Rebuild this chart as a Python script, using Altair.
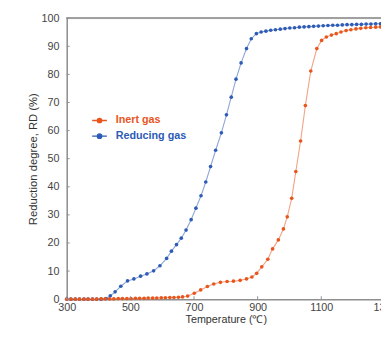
import altair as alt
import pandas as pd

# ---- data ----
series_names = ["Inert gas", "Reducing gas"]
series_colors = ["#E8561E", "#2D5BB5"]

inert_T = [300, 313, 327, 340, 354, 367, 381, 394, 408, 421, 435, 448, 462, 475,
           489, 502, 516, 529, 543, 556, 570, 583, 597, 610, 624, 637, 651, 664,
           680, 701, 721, 742, 762, 783, 804, 824, 845, 865, 882, 897, 913, 932,
           947, 965, 981, 993, 1007, 1020, 1035, 1050, 1067, 1086, 1101, 1116,
           1132, 1147, 1162, 1178, 1193, 1209, 1224, 1240, 1255, 1271, 1286, 1300]
inert_RD = [0.0, 0.0, 0.0, 0.0, 0.0, 0.0, 0.0, 0.0, 0.1, 0.1, 0.1, 0.1, 0.2, 0.2,
            0.2, 0.2, 0.3, 0.3, 0.3, 0.4, 0.4, 0.4, 0.5, 0.5, 0.6, 0.6, 0.7, 0.8,
            1.1, 2.1, 3.3, 4.5, 5.4, 6.0, 6.3, 6.4, 6.7, 7.2, 7.9, 9.2, 11.5, 14.2,
            17.9, 21.1, 25.0, 29.3, 35.9, 45.4, 56.3, 68.9, 81.2, 89.2, 92.1, 93.3,
            94.0, 94.5, 95.1, 95.6, 95.9, 96.2, 96.4, 96.6, 96.7, 96.8, 96.9, 97.0]

reducing_T = [300, 313, 327, 340, 354, 367, 381, 394, 408, 423, 437, 452, 470, 491,
              511, 532, 552, 573, 593, 614, 629, 645, 660, 675, 691, 706, 722, 737,
              752, 768, 786, 802, 817, 832, 848, 865, 880, 896, 911, 926, 941, 956,
              971, 986, 1001, 1016, 1031, 1046, 1061, 1076, 1091, 1106, 1121, 1136,
              1151, 1166, 1181, 1196, 1211, 1226, 1241, 1256, 1271, 1286, 1300]
reducing_RD = [0.0, 0.0, 0.0, 0.0, 0.0, 0.0, 0.0, 0.0, 0.0, 0.2, 1.2, 2.6, 4.6, 6.5,
               7.2, 8.2, 9.0, 10.1, 11.9, 14.5, 17.1, 19.4, 21.7, 24.6, 28.3, 32.4,
               36.8, 41.7, 47.2, 53.0, 59.2, 65.6, 71.9, 78.3, 84.1, 89.2, 92.7, 94.5,
               95.1, 95.4, 95.7, 95.9, 96.1, 96.3, 96.5, 96.6, 96.8, 96.9, 97.0, 97.1,
               97.2, 97.3, 97.4, 97.5, 97.5, 97.6, 97.7, 97.7, 97.8, 97.8, 97.9, 97.9,
               98.0, 98.0, 98.0]

x_ticks = [300, 500, 700, 900, 1100, 1300]
y_ticks = [0, 10, 20, 30, 40, 50, 60, 70, 80, 90, 100]

# ---- tables ----
df_red = pd.DataFrame({"T": reducing_T, "RD": reducing_RD, "series": series_names[1]})
df_inert = pd.DataFrame({"T": inert_T, "RD": inert_RD, "series": series_names[0]})
df = pd.concat([df_red, df_inert], ignore_index=True)
xt = pd.DataFrame({"T": x_ticks})
yt = pd.DataFrame({"RD": y_ticks})

FONT = "Liberation Sans"
AXIS_COLOR = "#8f8f8f"
W, H = 321, 287
XR = 325

xscale = alt.Scale(domain=[300, 1300], range=[0, XR], nice=False, zero=False)
yscale = alt.Scale(domain=[0, 100], nice=False, zero=False)
cscale = alt.Scale(domain=series_names, range=series_colors)

x_axis = alt.Axis(values=x_ticks, format="d", ticks=False, grid=False,
                  labelFlush=False, labelPadding=3, labelFont=FONT, labelFontSize=11,
                  labelColor="#444444", domainColor=AXIS_COLOR, domainWidth=1.5,
                  title="Temperature (\u2103)", titleFont=FONT, titleFontSize=11,
                  titleFontWeight="normal", titleColor="#333333", titlePadding=1)
y_axis = alt.Axis(values=y_ticks, ticks=False, grid=False, labelPadding=8,
                  labelFont=FONT, labelFontSize=11, labelColor="#444444",
                  domainColor=AXIS_COLOR, domainWidth=1.5,
                  title="Reduction degree, RD (%)", titleFont=FONT, titleFontSize=11.5,
                  titleFontWeight="normal", titleColor="#333333", titlePadding=3)

X = alt.X("T:Q", scale=xscale, axis=x_axis)
Y = alt.Y("RD:Q", scale=yscale, axis=y_axis)

sym = "M-1,0H1M-0.3,0A0.3,0.3,0,1,1,0.3,0A0.3,0.3,0,1,1,-0.3,0Z"
label_expr = "datum.value == '%s' ? '%s' : '%s'" % (series_names[0], series_colors[0], series_colors[1])
legend = alt.Legend(title=None, orient="none", legendX=25, legendY=96, padding=0,
                    symbolType=sym, symbolSize=225, symbolStrokeWidth=1.3,
                    symbolStrokeColor={"expr": label_expr},
                    labelFont=FONT, labelFontSize=11, labelFontWeight="bold",
                    labelOffset=8, rowPadding=2, labelColor={"expr": label_expr})

line_red = alt.Chart(df_red).mark_line(strokeWidth=1.1, opacity=0.55,
                                       color=series_colors[1]).encode(x=X, y=Y)
line_inert = alt.Chart(df_inert).mark_line(strokeWidth=1.1, opacity=0.55,
                                           color=series_colors[0]).encode(x=X, y=Y)
points = alt.Chart(df).mark_point(filled=True, size=14, opacity=1).encode(
    x=X, y=Y,
    color=alt.Color("series:N", scale=cscale, legend=legend),
)
top = alt.Chart(yt).mark_rule(color="#a0a0a0", strokeWidth=1.5).encode(
    y=alt.Y(datum=100, scale=yscale, axis=y_axis), x=alt.value(0), x2=alt.value(XR)
)
ytick = alt.Chart(yt).mark_rule(color=AXIS_COLOR, strokeWidth=1).encode(
    y=Y, x=alt.value(0), x2=alt.value(3)
)
xtick = alt.Chart(xt).mark_rule(color=AXIS_COLOR, strokeWidth=1).encode(
    x=X, y=alt.value(H), y2=alt.value(H - 3)
)

chart = alt.layer(line_red, line_inert, points, top, ytick, xtick).properties(
    width=W, height=H,
    autosize=alt.AutoSizeParams(type="none"),
    padding={"left": 60, "top": 7, "right": 0, "bottom": 25},
).configure_view(stroke=None).configure(background="white")

chart.save("out.html", embed_options={"renderer": "svg", "actions": False})
